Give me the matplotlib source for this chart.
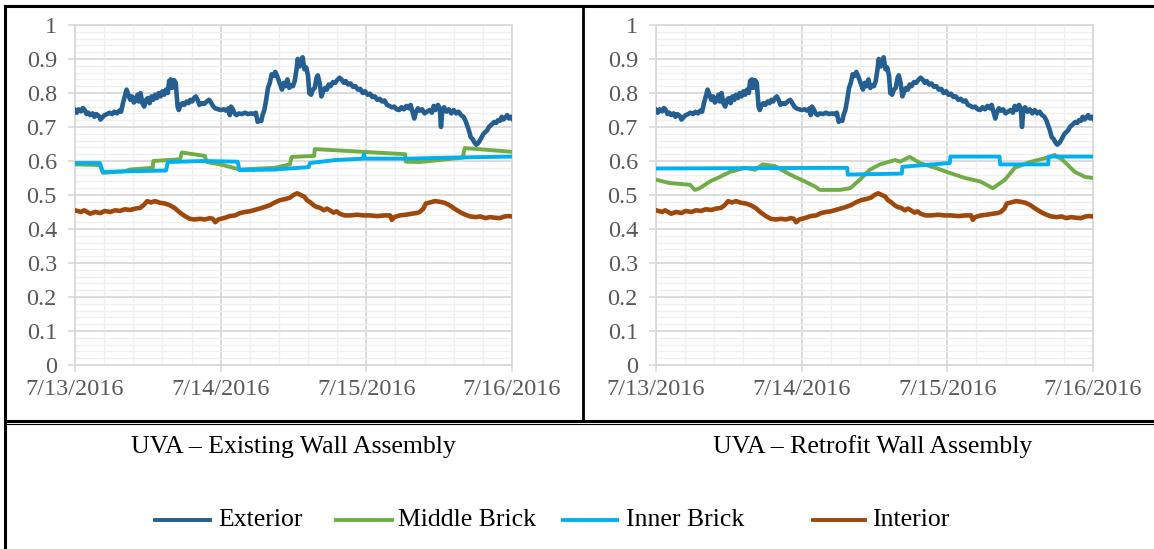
import matplotlib
matplotlib.use('Agg')
import matplotlib.pyplot as plt
from matplotlib.lines import Line2D
import numpy as np

plt.rcParams['font.family'] = ['Liberation Serif', 'DejaVu Serif']

# ---------------- data (hours since 7/13/2016 00:00) ----------------
tick_labels = ['7/13/2016', '7/14/2016', '7/15/2016', '7/16/2016']
tick_hours = [0, 24, 48, 72]
series_names = ['Exterior', 'Middle Brick', 'Inner Brick', 'Interior']
captions = ['UVA \u2013 Existing Wall Assembly', 'UVA \u2013 Retrofit Wall Assembly']

exterior_pts = [
    (0, .75), (.3, .742), (.6, .752), (1.0, .746), (1.3, .756), (1.6, .75), (1.9, .738),
    (2.2, .742), (2.5, .735), (2.9, .74), (3.2, .73), (3.5, .738), (3.9, .733), (4.2, .722),
    (4.5, .728), (4.9, .735), (5.3, .738), (5.7, .742), (6.1, .738), (6.5, .745), (6.9, .74),
    (7.3, .748), (7.6, .745), (7.9, .77), (8.2, .79), (8.5, .81), (8.8, .795), (9.1, .78),
    (9.4, .79), (9.7, .772), (10.0, .78), (10.3, .795), (10.5, .775), (10.8, .80), (11.1, .77),
    (11.4, .76), (11.7, .78), (12.0, .785), (12.3, .77), (12.6, .79), (12.9, .78), (13.2, .795),
    (13.5, .785), (13.8, .80), (14.1, .79), (14.4, .805), (14.7, .795), (15.0, .81), (15.3, .80),
    (15.5, .835), (15.8, .84), (16.0, .815), (16.3, .838), (16.6, .83), (16.9, .76), (17.1, .75),
    (17.4, .765), (17.7, .77), (18.0, .765), (18.4, .775), (18.7, .77), (19.0, .78), (19.3, .775),
    (19.6, .785), (19.9, .79), (20.2, .78), (20.5, .765), (20.9, .77), (21.3, .768), (21.7, .775),
    (22.1, .78), (22.4, .772), (22.8, .76), (23.1, .755), (23.6, .752), (24.0, .75), (24.5, .752),
    (24.9, .748), (25.3, .755), (25.5, .735), (25.7, .76), (26.0, .752), (26.3, .74), (26.6, .735),
    (27.0, .74), (27.5, .738), (28.0, .742), (28.5, .738), (29.0, .74), (29.5, .738), (29.8, .742),
    (30.1, .715), (30.4, .72), (30.7, .718), (30.9, .735), (31.2, .75), (31.5, .78), (31.8, .815),
    (32.1, .83), (32.4, .855), (32.7, .85), (33.0, .862), (33.3, .85), (33.6, .835), (33.9, .82),
    (34.1, .81), (34.4, .83), (34.7, .82), (35.0, .84), (35.3, .815), (35.6, .822), (35.9, .82),
    (36.2, .835), (36.5, .87), (36.7, .90), (37.0, .878), (37.3, .89), (37.5, .905), (37.8, .87),
    (38.1, .875), (38.4, .85), (38.6, .80), (38.9, .795), (39.2, .81), (39.5, .815), (39.8, .845),
    (40.0, .852), (40.3, .83), (40.6, .79), (40.9, .805), (41.2, .815), (41.5, .81), (41.8, .825),
    (42.1, .82), (42.5, .832), (42.9, .83), (43.2, .838), (43.6, .845), (43.9, .84), (44.3, .83),
    (44.6, .835), (45.0, .825), (45.4, .828), (45.8, .818), (46.2, .82), (46.6, .81), (47.0, .812),
    (47.4, .80), (47.8, .805), (48.2, .795), (48.6, .798), (49.0, .788), (49.4, .79), (49.8, .78),
    (50.2, .783), (50.6, .775), (51.0, .778), (51.4, .765), (51.8, .762), (52.2, .758), (52.6, .76),
    (53.0, .752), (53.4, .75), (53.8, .758), (54.2, .752), (54.6, .762), (55.0, .755), (55.3, .765),
    (55.6, .745), (55.9, .725), (56.2, .745), (56.5, .755), (56.8, .748), (57.2, .752), (57.6, .74),
    (58.0, .745), (58.4, .75), (58.8, .742), (59.1, .762), (59.4, .75), (59.8, .765), (60.1, .755),
    (60.3, .70), (60.5, .745), (60.8, .758), (61.2, .745), (61.6, .752), (62.0, .74), (62.4, .75),
    (62.8, .74), (63.2, .745), (63.6, .735), (64.0, .73), (64.3, .72), (64.6, .705), (64.9, .69),
    (65.2, .67), (65.5, .665), (65.8, .655), (66.1, .648), (66.4, .652), (66.7, .66), (67.0, .67),
    (67.3, .68), (67.6, .685), (67.9, .69), (68.2, .70), (68.5, .705), (68.8, .71), (69.1, .715),
    (69.4, .712), (69.7, .72), (70.0, .718), (70.3, .73), (70.6, .722), (70.9, .728), (71.2, .735),
    (71.5, .725), (71.8, .73), (72.0, .725)]

interior_pts = [
    (0, .455), (1, .45), (1.5, .455), (2.5, .445), (3.3, .45), (4.2, .447), (4.9, .453),
    (5.8, .45), (6.6, .455), (7.4, .453), (8.2, .458), (9.1, .456), (9.9, .46), (10.7, .462),
    (11.3, .47), (11.9, .482), (12.5, .478), (13.2, .482), (14.0, .477), (14.8, .475), (15.6, .47),
    (16.4, .462), (17.3, .448), (18.1, .438), (18.9, .43), (19.7, .428), (20.6, .43), (21.4, .428),
    (22.2, .432), (22.7, .43), (23.1, .42), (23.6, .428), (24.7, .433), (25.5, .438), (26.4, .44),
    (27.2, .447), (28.0, .45), (28.8, .452), (29.6, .456), (30.4, .46), (31.3, .465), (32.1, .47),
    (32.9, .478), (33.8, .485), (34.6, .488), (35.4, .492), (36.0, .50), (36.6, .505), (37.2, .50),
    (37.8, .495), (38.2, .485), (38.8, .478), (39.3, .47), (39.8, .465), (40.4, .462), (41.0, .455),
    (41.5, .46), (42.0, .455), (42.6, .448), (43.1, .452), (43.6, .445), (44.4, .44), (45.3, .44),
    (46.5, .442), (47.5, .44), (48.6, .44), (49.8, .438), (51.0, .44), (51.9, .44), (52.2, .427),
    (52.6, .435), (53.5, .44), (54.5, .442), (55.5, .445), (56.3, .447), (56.8, .45), (57.4, .46),
    (57.8, .475), (58.5, .478), (59.3, .482), (60.1, .48), (60.9, .477), (61.7, .47), (62.5, .46),
    (63.4, .45), (64.2, .443), (65.1, .437), (66.0, .435), (66.8, .437), (67.6, .432), (68.4, .435),
    (69.2, .433), (70.0, .432), (70.8, .437), (71.4, .438), (72.0, .437)]

# Existing wall
middle_exist_h = [0, 4.1, 4.6, 8.2, 9.1, 12.8, 12.9, 17.3, 17.6, 21.4, 21.7, 23.9, 27.2,
                  32.9, 35.4, 35.7, 39.4, 39.5, 54.4, 54.5, 56.8, 63.9, 64.2, 72.0]
middle_exist_v = [0.59, 0.588, 0.565, 0.57, 0.575, 0.58, 0.60, 0.605, 0.625, 0.615, 0.597,
                  0.59, 0.575, 0.58, 0.59, 0.612, 0.615, 0.635, 0.62, 0.598, 0.597, 0.61,
                  0.638, 0.627]
inner_exist_h = [0, 4.1, 4.6, 15.0, 15.3, 21.0, 26.8, 27.1, 33.0, 38.5, 38.7, 43.0, 47.5,
                 47.6, 47.8, 55.0, 62.0, 72.0]
inner_exist_v = [0.594, 0.594, 0.568, 0.572, 0.597, 0.60, 0.598, 0.573, 0.575, 0.582, 0.594,
                 0.603, 0.607, 0.62, 0.607, 0.607, 0.61, 0.613]

# Retrofit wall
middle_retro_h = [0, 2.3, 5.6, 6.4, 7.2, 8.9, 10.5, 12.2, 14.7, 16.3, 17.6, 19.6, 22.1, 24.5,
                  26.2, 27.0, 30.3, 32.0, 33.6, 35.2, 36.9, 39.4, 40.2, 41.8, 43.5, 46.0,
                  48.4, 50.9, 53.4, 55.5, 57.5, 59.1, 61.6, 64.9, 65.7, 67.0, 69.0, 70.7, 72.0]
middle_retro_v = [0.545, 0.535, 0.53, 0.515, 0.52, 0.54, 0.553, 0.568, 0.58, 0.574, 0.59,
                  0.585, 0.56, 0.54, 0.525, 0.515, 0.515, 0.52, 0.545, 0.574, 0.59, 0.603,
                  0.598, 0.612, 0.594, 0.58, 0.565, 0.55, 0.54, 0.52, 0.545, 0.58, 0.597,
                  0.612, 0.618, 0.603, 0.568, 0.553, 0.55]
inner_retro_h = [0, 31.5, 31.6, 40.5, 40.6, 48.4, 48.5, 56.6, 56.7, 64.6, 64.7, 72.0]
inner_retro_v = [0.578, 0.58, 0.56, 0.563, 0.583, 0.594, 0.613, 0.613, 0.59, 0.59, 0.613,
                 0.613]

colors = ['#255E91', '#70AD47', '#00B0F0', '#9E480E']
widths = [3.3, 2.8, 2.8, 3.3]

exterior_h, exterior_v = zip(*exterior_pts)
interior_h, interior_v = zip(*interior_pts)

# ---------------- figure ----------------
W, H = 1154, 549
fig = plt.figure(figsize=(W / 100, H / 100), dpi=100)


def rect(x0, x1, ytop, ybot):
    return [x0 / W, 1 - ybot / H, (x1 - x0) / W, (ybot - ytop) / H]


def fx(x):
    return x / W


def fy(y):
    return 1 - y / H


panels = [
    (rect(75, 512, 25, 365), [(exterior_h, exterior_v), (middle_exist_h, middle_exist_v),
                              (inner_exist_h, inner_exist_v), (interior_h, interior_v)]),
    (rect(656, 1093, 25, 365), [(exterior_h, exterior_v), (middle_retro_h, middle_retro_v),
                                (inner_retro_h, inner_retro_v), (interior_h, interior_v)]),
]

grid_major = '#D9D9D9'
grid_minor = '#EFEFEF'
label_col = '#595959'

for r, series in panels:
    ax = fig.add_axes(r)
    for (h, v), c, lw in zip(series, colors, widths):
        ax.plot(h, v, color=c, lw=lw, solid_joinstyle='round', zorder=3)
    ax.set_xlim(0, 72)
    ax.set_ylim(0, 1)
    yt = np.round(np.arange(0, 1.001, 0.1), 1)
    ax.set_yticks(yt)
    ax.set_yticklabels([f'{v:g}' for v in yt])
    ax.set_yticks(np.arange(0, 1.0001, 0.02), minor=True)
    ax.set_xticks(tick_hours)
    ax.set_xticklabels(tick_labels)
    ax.set_xticks(np.arange(0, 72.01, 4.8), minor=True)
    ax.grid(which='major', color=grid_major, lw=1.3, zorder=1)
    ax.grid(which='minor', color=grid_minor, lw=0.9, zorder=0)
    ax.set_axisbelow(True)
    ax.tick_params(which='major', length=5, width=1.2, color=grid_major,
                   labelcolor=label_col, labelsize=17.5)
    ax.tick_params(axis='y', which='major', pad=8)
    ax.tick_params(axis='x', which='major', pad=5)
    ax.tick_params(which='minor', length=0)
    for s in ax.spines.values():
        s.set_color(grid_major)
        s.set_linewidth(1.3)

# table-like frame
frame = [((5, 5), (6, 549), 2.2), ((5, W), (6, 6), 2.2), ((583, 583), (6, 421), 2.0),
         ((5, W), (421, 421), 2.2), ((5, W), (424, 424), 0.8)]
for xs, ys, lw in frame:
    fig.add_artist(Line2D([fx(xs[0]), fx(xs[1])], [fy(ys[0]), fy(ys[1])],
                          transform=fig.transFigure, color='black', lw=lw))

# captions
for cx, txt in zip([293, 873], captions):
    fig.text(fx(cx), fy(447), txt, ha='center', va='center', fontsize=18.5, color='black')

# legend
leg_handles = [(155, 210, 218), (336, 392, 398), (563, 617, 626), (813, 865, 872)]
for (x0, x1, tx), name, c in zip(leg_handles, series_names, colors):
    fig.add_artist(Line2D([fx(x0), fx(x1)], [fy(520), fy(520)], transform=fig.transFigure,
                          color=c, lw=2.8))
    fig.text(fx(tx), fy(520), name, ha='left', va='center', fontsize=18.5, color='black')

fig.savefig('out.png', dpi=100)
